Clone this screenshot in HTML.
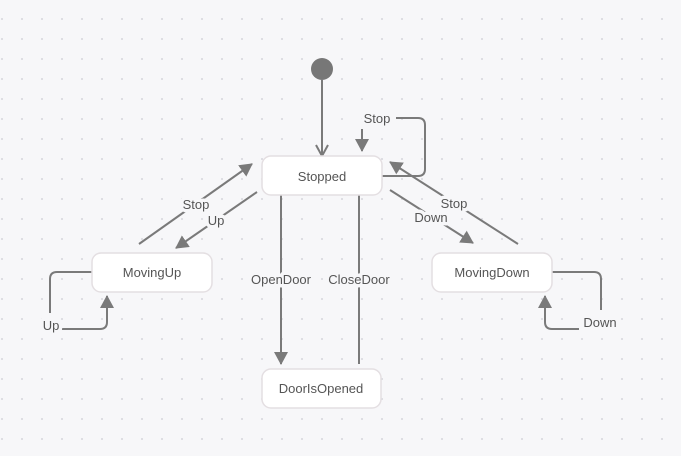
<!DOCTYPE html>
<html><head><meta charset="utf-8"><style>
html,body{margin:0;padding:0;width:681px;height:456px;overflow:hidden;background:#f7f7f9}
svg{display:block}
text{font-family:"Liberation Sans",sans-serif;font-size:13px;fill:#555}
.l{stroke:#f7f7f9;stroke-width:7px;paint-order:stroke;stroke-linejoin:round}
</style></head><body>
<svg width="681" height="456" viewBox="0 0 681 456">
<defs>
<pattern id="d" x="0" y="0" width="20" height="20" patternUnits="userSpaceOnUse">
<circle cx="2" cy="19" r="1" fill="#d6d6dc"/>
</pattern>
<marker id="a" markerWidth="14" markerHeight="14" refX="12" refY="7" orient="auto" markerUnits="userSpaceOnUse">
<path d="M0,0 L13,7 L0,14 Z" fill="#7a7a7a"/>
</marker>
<marker id="o" markerWidth="14" markerHeight="14" refX="12" refY="7" orient="auto" markerUnits="userSpaceOnUse">
<path d="M1,1 L12,7 L1,13" fill="none" stroke="#7a7a7a" stroke-width="2"/>
</marker>
</defs>
<rect width="681" height="456" fill="url(#d)"/>
<g stroke="#7a7a7a" stroke-width="2" fill="none">
<circle cx="322" cy="69" r="11" fill="#777" stroke="none"/>
<line x1="322" y1="80" x2="322" y2="156" marker-end="url(#o)"/>
<path d="M382,176 H418 Q425,176 425,169 V125 Q425,118 418,118 H396"/>
<line x1="362" y1="129" x2="362" y2="151" marker-end="url(#a)"/>
<line x1="139" y1="244" x2="252" y2="164" marker-end="url(#a)"/>
<line x1="257" y1="192" x2="176" y2="248" marker-end="url(#a)"/>
<line x1="390" y1="190" x2="473" y2="243" marker-end="url(#a)"/>
<line x1="518" y1="244" x2="390" y2="162" marker-end="url(#a)"/>
<line x1="281" y1="195" x2="281" y2="364" marker-end="url(#a)"/>
<line x1="359" y1="364" x2="359" y2="167" marker-end="url(#a)"/>
<path d="M92,272 H57 Q50,272 50,279 V313"/>
<path d="M62,329 H100 Q107,329 107,322 V296" marker-end="url(#a)"/>
<path d="M552,272 H594 Q601,272 601,279 V310"/>
<path d="M579,329 H552 Q545,329 545,322 V296" marker-end="url(#a)"/>
</g>
<g fill="#fff" stroke="#e4dfe2" stroke-width="1.5">
<rect x="262" y="156" width="120" height="39" rx="9"/>
<rect x="92" y="253" width="120" height="39" rx="9"/>
<rect x="432" y="253" width="120" height="39" rx="9"/>
<rect x="262" y="369" width="119" height="39" rx="9"/>
</g>
<g text-anchor="middle">
<text x="322" y="181">Stopped</text>
<text x="152" y="277">MovingUp</text>
<text x="492" y="277">MovingDown</text>
<text x="321" y="393">DoorIsOpened</text>
<text class="l" x="377" y="123">Stop</text>
<text class="l" x="196" y="209">Stop</text>
<text class="l" x="216" y="225">Up</text>
<text class="l" x="431" y="222">Down</text>
<text class="l" x="454" y="208">Stop</text>
<text class="l" x="281" y="284">OpenDoor</text>
<text class="l" x="359" y="284">CloseDoor</text>
<text class="l" x="51" y="330">Up</text>
<text class="l" x="600" y="327">Down</text>
</g>
</svg>
</body></html>
